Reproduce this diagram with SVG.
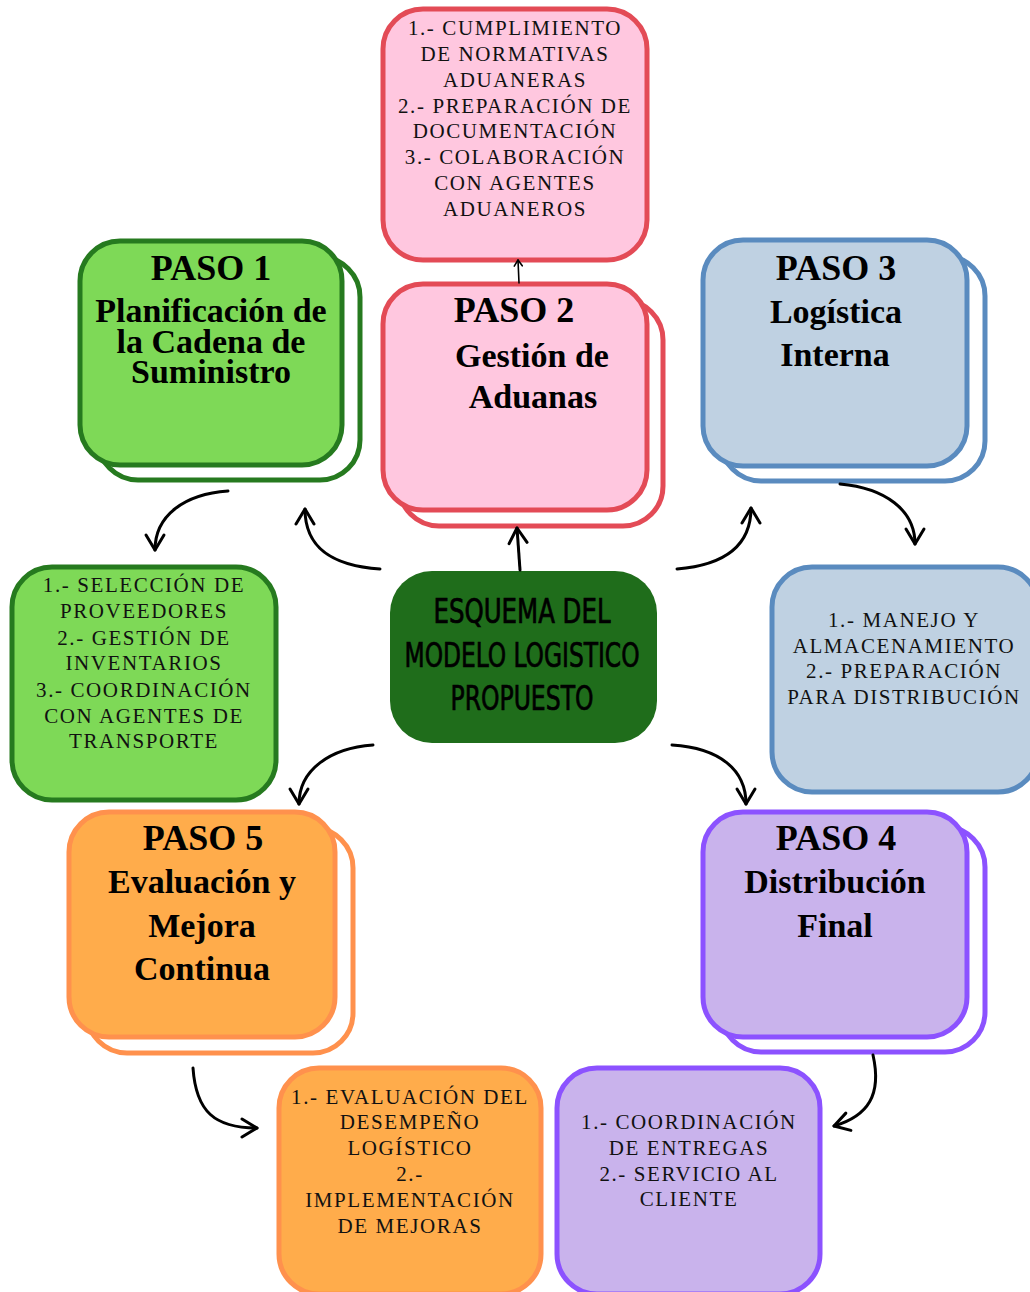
<svg xmlns="http://www.w3.org/2000/svg" width="1030" height="1292" viewBox="0 0 1030 1292">
<defs>
<style>
.box{stroke-width:5}
.g{fill:#7ED957;stroke:#267A1F}
.p{fill:#FFC7DF;stroke:#E34B56}
.b{fill:#BFD1E2;stroke:#5A8BBF}
.o{fill:#FFAC4B;stroke:#FF914D}
.v{fill:#C9B3EC;stroke:#8C52FF}
.back{fill:#ffffff !important}
.title{font-family:"Liberation Serif","Times New Roman",serif;font-weight:bold;font-size:36px;fill:#000;text-anchor:middle}
.sub{font-family:"Liberation Serif","Times New Roman",serif;font-weight:bold;font-size:34px;fill:#000;text-anchor:middle}
.det{font-family:"Liberation Serif","Times New Roman",serif;font-size:21px;letter-spacing:1.6px;fill:#111;text-anchor:middle}
.center{font-family:"DejaVu Sans Condensed","Liberation Sans Narrow","DejaVu Sans",sans-serif;font-size:33px;fill:#000;stroke:#000;stroke-width:0.7;text-anchor:middle}
.conn{fill:none;stroke:#000;stroke-width:3;stroke-linecap:round}
</style>
<marker id="ah" viewBox="-20 -12 24 24" refX="0" refY="0" markerWidth="24" markerHeight="24" markerUnits="userSpaceOnUse" orient="auto">
<path d="M-15,-9 L0,0 L-15,9" fill="none" stroke="#000" stroke-width="3" stroke-linecap="round" stroke-linejoin="round"/>
</marker>
<marker id="ahs" viewBox="-10 -6 12 12" refX="0" refY="0" markerWidth="12" markerHeight="12" markerUnits="userSpaceOnUse" orient="auto">
<path d="M-6,-4 L0,0 L-6,4" fill="none" stroke="#000" stroke-width="1.6" stroke-linecap="round" stroke-linejoin="round"/>
</marker>
</defs>
<rect width="1030" height="1292" fill="#ffffff"/>

<g id="paso1">
<rect class="box g back" x="98" y="257" width="262" height="223" rx="40"/>
<rect class="box g" x="80" y="241" width="262" height="224" rx="40"/>
<text class="title" x="211" y="280">PASO 1</text>
<text class="sub" x="211" y="322">Planificación de</text>
<text class="sub" x="211" y="353">la Cadena de</text>
<text class="sub" x="211" y="383">Suministro</text>
</g>

<g id="paso2">
<rect class="box p back" x="399" y="300" width="264" height="226" rx="40"/>
<rect class="box p" x="383" y="284" width="264" height="226" rx="40"/>
<text class="title" x="514" y="322">PASO 2</text>
<text class="sub" x="532" y="367">Gestión de</text>
<text class="sub" x="533" y="408">Aduanas</text>
</g>

<g id="aduanas-detalle">
<rect class="box p" x="383" y="9" width="264" height="251" rx="40"/>
<text class="det" x="515" y="35">1.- CUMPLIMIENTO</text>
<text class="det" x="515" y="61">DE NORMATIVAS</text>
<text class="det" x="515" y="87">ADUANERAS</text>
<text class="det" x="515" y="113">2.- PREPARACIÓN DE</text>
<text class="det" x="515" y="138">DOCUMENTACIÓN</text>
<text class="det" x="515" y="164">3.- COLABORACIÓN</text>
<text class="det" x="515" y="190">CON AGENTES</text>
<text class="det" x="515" y="216">ADUANEROS</text>
</g>

<g id="paso3">
<rect class="box b back" x="721" y="256" width="264" height="225" rx="40"/>
<rect class="box b" x="703" y="240" width="264" height="226" rx="40"/>
<text class="title" x="836" y="280">PASO 3</text>
<text class="sub" x="836" y="323">Logística</text>
<text class="sub" x="835" y="366">Interna</text>
</g>

<g id="planificacion-detalle">
<rect class="box g" x="12" y="567" width="264" height="233" rx="40"/>
<text class="det" x="144" y="592">1.- SELECCIÓN DE</text>
<text class="det" x="144" y="618">PROVEEDORES</text>
<text class="det" x="144" y="645">2.- GESTIÓN DE</text>
<text class="det" x="144" y="670">INVENTARIOS</text>
<text class="det" x="144" y="697">3.- COORDINACIÓN</text>
<text class="det" x="144" y="723">CON AGENTES DE</text>
<text class="det" x="144" y="748">TRANSPORTE</text>
</g>

<g id="centro">
<rect x="390" y="571" width="267" height="172" rx="42" fill="#1F6D1B"/>
<text class="center" x="522" y="623" textLength="177" lengthAdjust="spacingAndGlyphs">ESQUEMA DEL</text>
<text class="center" x="522" y="667" textLength="235" lengthAdjust="spacingAndGlyphs">MODELO LOGISTICO</text>
<text class="center" x="522" y="710" textLength="143" lengthAdjust="spacingAndGlyphs">PROPUESTO</text>
</g>

<g id="logistica-detalle">
<rect class="box b" x="772" y="567" width="266" height="225" rx="40"/>
<text class="det" x="904" y="627">1.- MANEJO Y</text>
<text class="det" x="904" y="653">ALMACENAMIENTO</text>
<text class="det" x="904" y="678">2.- PREPARACIÓN</text>
<text class="det" x="904" y="704">PARA DISTRIBUCIÓN</text>
</g>

<g id="paso5">
<rect class="box o back" x="87" y="828" width="266" height="225" rx="40"/>
<rect class="box o" x="69" y="812" width="266" height="225" rx="40"/>
<text class="title" x="203" y="850">PASO 5</text>
<text class="sub" x="202" y="893">Evaluación y</text>
<text class="sub" x="202" y="937">Mejora</text>
<text class="sub" x="202" y="980">Continua</text>
</g>

<g id="paso4">
<rect class="box v back" x="721" y="827" width="264" height="225" rx="40"/>
<rect class="box v" x="703" y="812" width="264" height="225" rx="40"/>
<text class="title" x="836" y="850">PASO 4</text>
<text class="sub" x="835" y="893">Distribución</text>
<text class="sub" x="835" y="937">Final</text>
</g>

<g id="evaluacion-detalle">
<rect class="box o" x="279" y="1068" width="262" height="226" rx="40"/>
<text class="det" x="410" y="1104">1.- EVALUACIÓN DEL</text>
<text class="det" x="410" y="1129">DESEMPEÑO</text>
<text class="det" x="410" y="1155">LOGÍSTICO</text>
<text class="det" x="410" y="1181">2.-</text>
<text class="det" x="410" y="1207">IMPLEMENTACIÓN</text>
<text class="det" x="410" y="1233">DE MEJORAS</text>
</g>

<g id="distribucion-detalle">
<rect class="box v" x="557" y="1068" width="263" height="226" rx="40"/>
<text class="det" x="689" y="1129">1.- COORDINACIÓN</text>
<text class="det" x="689" y="1155">DE ENTREGAS</text>
<text class="det" x="689" y="1181">2.- SERVICIO AL</text>
<text class="det" x="689" y="1206">CLIENTE</text>
</g>

<g id="connectors">
<path class="conn" d="M380,569 C335,566 305,550 305,509" marker-end="url(#ah)"/>
<path class="conn" d="M228,491 C185,494 155,515 155,550" marker-end="url(#ah)"/>
<path class="conn" d="M373,745 C330,748 299,770 299,804" marker-end="url(#ah)"/>
<path class="conn" d="M520,570 L517,528" marker-end="url(#ah)"/>
<path class="conn" style="stroke-width:1.6" d="M519,283 L518,260" marker-end="url(#ahs)"/>
<path class="conn" d="M677,569 C725,565 751,545 751,508" marker-end="url(#ah)"/>
<path class="conn" d="M840,484 C885,488 915,510 915,544" marker-end="url(#ah)"/>
<path class="conn" d="M672,745 C720,748 746,770 746,804" marker-end="url(#ah)"/>
<path class="conn" d="M193,1068 C196,1112 215,1128 257,1128" marker-end="url(#ah)"/>
<path class="conn" d="M873,1055 C882,1095 868,1116 834,1126" marker-end="url(#ah)"/>
</g>
</svg>
